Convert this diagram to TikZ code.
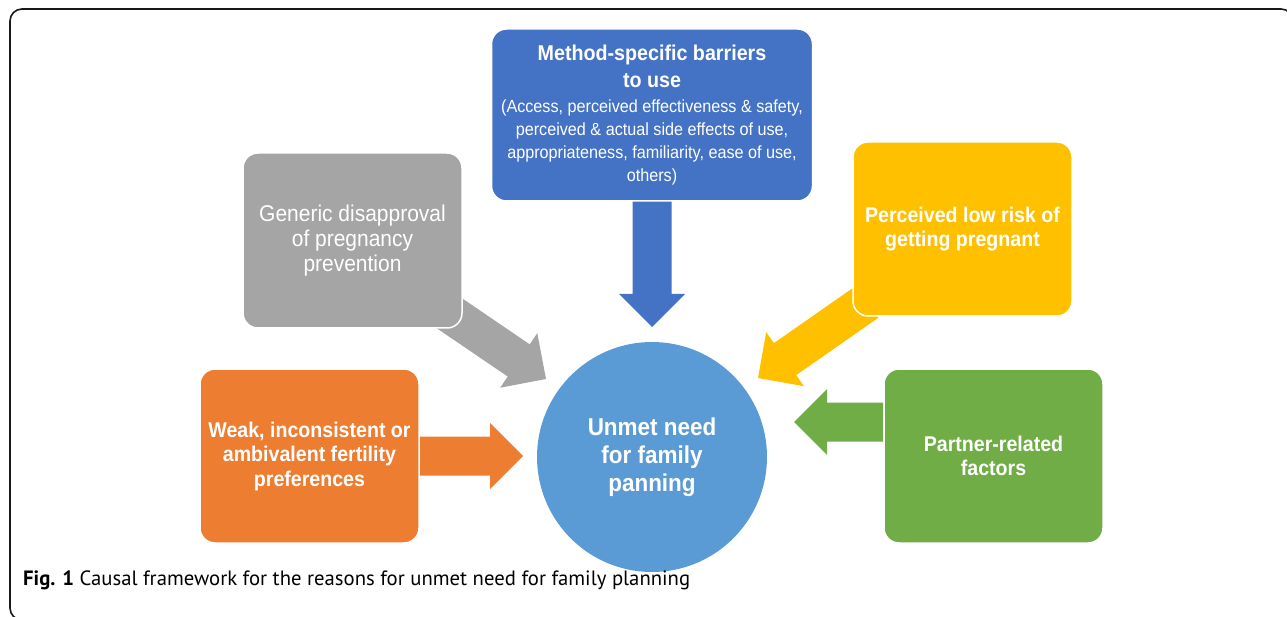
\documentclass[tikz,border=0pt]{standalone}
\usepackage{fontspec}
\setmainfont[FakeStretch=0.92]{Liberation Sans}
\newfontfamily\capfont{PT Sans}
\usetikzlibrary{calc,backgrounds}
\definecolor{cblue}{HTML}{4472C4}
\definecolor{ccirc}{HTML}{5B9BD5}
\definecolor{cgray}{HTML}{A5A5A5}
\definecolor{corange}{HTML}{ED7D31}
\definecolor{cyellow}{HTML}{FFC000}
\definecolor{cgreen}{HTML}{70AD47}
\newcommand\fatarrowfill[3]{%
  \coordinate (bh) at ($(#2)!33pt!(#1)$);
  \fill[#3] ($(#1)!19.5pt!90:(#2)$) -- ($(bh)!19.5pt!-90:(#1)$) -- ($(bh)!33pt!-90:(#1)$) -- (#2)
    -- ($(bh)!33pt!90:(#1)$) -- ($(bh)!19.5pt!90:(#1)$) -- ($(#1)!19.5pt!-90:(#2)$) -- cycle;}
\tikzset{
  box/.style={rectangle, rounded corners=15pt, draw=white, line width=1.5pt, text=white,
    inner sep=0pt, align=center, minimum width=219pt, minimum height=174pt},
  boldtxt/.style={font=\bfseries\fontsize{21.3}{24.5}\selectfont},
  frame/.style={draw=black!90, line width=1.6pt, rounded corners=12pt}
}
\begin{document}
\begin{tikzpicture}[x=1pt,y=-1pt]
\useasboundingbox (0,0) rectangle (1287,617);
\clip (0,0) rectangle (1287,617);
\draw[frame] (10,9) rectangle (1293,620);

\node[box, fill=cblue, minimum width=321pt, minimum height=172pt,
      font=\fontsize{17.6}{23}\selectfont] (meth) at (652,115)
  {\bfseries\fontsize{21.4}{23}\selectfont Method-specific barriers\\[4pt]
   \bfseries\fontsize{21.4}{23}\selectfont to use\\[1.5pt]
   (Access, perceived effectiveness \& safety,\\
   perceived \& actual side effects of use,\\
   appropriateness, familiarity, ease of use,\\
   others)};
\node[box, fill=cgray, minimum height=175pt, font=\fontsize{22.8}{25}\selectfont] (gen) at (352.5,240.5)
  {Generic disapproval\\of pregnancy\\prevention};
\node[box, fill=corange, boldtxt] (weak) at (309.5,456)
  {Weak, inconsistent or\\ambivalent fertility\\preferences};
\node[box, fill=cyellow, boldtxt] (low) at (962.5,229)
  {Perceived low risk of\\getting pregnant};
\node[box, fill=cgreen, boldtxt] (part) at (993.5,456)
  {Partner-related\\factors};
\node[circle, fill=ccirc, minimum size=230pt, inner sep=0pt, text=white, align=center,
      font=\bfseries\fontsize{24.4}{28}\selectfont] (unmet) at (652,457)
  {Unmet need\\for family\\panning};

\coordinate (tipB) at (652,327);
\coordinate (tipG) at (546,379);
\coordinate (tipY) at (758,378);
\coordinate (tipO) at (523,456);
\coordinate (tipP) at (794,422);
\coordinate (stB) at ($(meth.south)+(0,-5)$);
\coordinate (stG) at ($(gen.south east)+(-20,-20)$);
\coordinate (stY) at ($(low.south west)+(15,-15)$);
\coordinate (stP) at ($(part.west)+(0,-34)$);
\begin{pgfonlayer}{background}
\fatarrowfill{stB}{tipB}{cblue}
\fatarrowfill{stG}{tipG}{cgray}
\fatarrowfill{stY}{tipY}{cyellow}
\fatarrowfill{weak.east}{tipO}{corange}
\fatarrowfill{stP}{tipP}{cgreen}
\end{pgfonlayer}

\node[anchor=base west, inner sep=0pt, font=\capfont\fontsize{20.7}{22}\selectfont] (cap) at (23,585)
  {\textbf{Fig. 1} Causal framework for the reasons for unmet need for family planning};
\end{tikzpicture}
\end{document}
